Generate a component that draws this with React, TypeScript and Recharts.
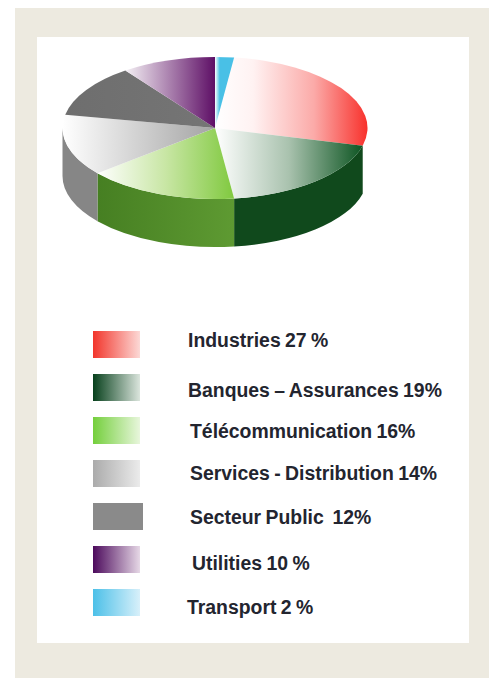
import React from 'react';
import { PieChart, Pie, Legend } from 'recharts';

const categories = [
  'Industries',
  'Banques – Assurances',
  'Télécommunication',
  'Services - Distribution',
  'Secteur Public',
  'Utilities',
  'Transport',
];
const shares = [27, 19, 16, 14, 12, 10, 2];
const shareLabels = ['27 %', '19%', '16%', '14%', ' 12%', '10 %', '2 %'];

// face gradients as [offset, colour] stops, left to right
const faceStops: [number, string][][] = [
  [[0, '#ffffff'], [0.25, '#fff2f2'], [0.65, '#fbaaa8'], [1, '#f8312c']],
  [[0, '#ffffff'], [0.5, '#a9c2ae'], [1, '#0d5522']],
  [[0, '#ffffff'], [0.5, '#c8e6a4'], [1, '#80c93f']],
  [[0, '#ffffff'], [1, '#a3a3a3']],
  [[0, '#6e6e6e'], [1, '#757575']],
  [[0, '#f4f0f4'], [1, '#5e0f66']],
  [[0, '#ffffff'], [0.25, '#49c0e6'], [1, '#49c0e6']],
];
const wallColors = ['none', '#10491c', 'url(#greenWall)', '#868686', '#757575', '#5e0f66', '#49c0e6'];
const swatchColors = [
  ['#f2352b', '#fcd9d6'],
  ['#07401c', '#dbe5dd'],
  ['#74cf3c', '#e8f6dc'],
  ['#ababab', '#ebebeb'],
  ['#8a8a8a', '#8a8a8a'],
  ['#4c0a5c', '#e6d8e6'],
  ['#4cc0e8', '#d8f0fa'],
];
const rowLeft = [188, 188, 190, 190, 190, 192, 187];
const rowTextMid = [340, 390, 431, 473, 517, 563, 607];

const tableData = categories.map((name, i) => ({ name, value: shares[i], index: i }));

const CX = 215;
const CY = 128;
const RX = 152.5;
const SQUASH = 71 / 152.5;
const DEPTH = 48;
const FIRST_ANGLE = 82.8;

const px = (cx: number, r: number, a: number) => cx + r * Math.cos((a * Math.PI) / 180);
const py = (cy: number, r: number, a: number) => cy - r * SQUASH * Math.sin((a * Math.PI) / 180);

// top of a slice, flattened to an ellipse
function Face(props: any) {
  const { cx, cy, outerRadius: r, startAngle, endAngle, payload } = props;
  const large = Math.abs(startAngle - endAngle) > 180 ? 1 : 0;
  const d = `M${cx},${cy} L${px(cx, r, startAngle)},${py(cy, r, startAngle)} A${r},${r * SQUASH} 0 ${large} 1 ${px(cx, r, endAngle)},${py(cy, r, endAngle)} Z`;
  return <path d={d} fill={`url(#face${payload.index})`} />;
}

// rim of a slice, only the part that faces the viewer (angles 0..-180)
function Wall(props: any) {
  const { cx, cy, outerRadius: r, startAngle, endAngle, payload } = props;
  const a = Math.min(startAngle, 0);
  const b = Math.max(endAngle, -180);
  if (a <= b) return <g />;
  const d = `M${px(cx, r, a)},${py(cy, r, a)} A${r},${r * SQUASH} 0 0 1 ${px(cx, r, b)},${py(cy, r, b)} L${px(cx, r, b)},${py(cy, r, b) + DEPTH} A${r},${r * SQUASH} 0 0 0 ${px(cx, r, a)},${py(cy, r, a) + DEPTH} Z`;
  return <path d={d} fill={wallColors[payload.index]} />;
}

function LegendRows() {
  return (
    <div style={{ position: 'absolute', left: 0, top: 0, width: 489, height: 678 }}>
      {categories.map((name, i) => (
        <React.Fragment key={name}>
          <div
            style={{
              position: 'absolute',
              left: 93,
              top: 331 + i * 43,
              width: i === 4 ? 50 : 47,
              height: 27,
              background: `linear-gradient(to right, ${swatchColors[i][0]}, ${swatchColors[i][1]})`,
            }}
          />
          <div
            style={{
              position: 'absolute',
              left: rowLeft[i],
              top: rowTextMid[i] - 12,
              lineHeight: '24px',
              fontSize: 19.4,
              fontWeight: 700,
              wordSpacing: -1,
              fontFamily: '"Liberation Sans", Arial, sans-serif',
              color: '#23252f',
              whiteSpace: 'pre',
            }}
          >
            {name} {shareLabels[i]}
          </div>
        </React.Fragment>
      ))}
    </div>
  );
}

export default function App() {
  return (
    <div style={{ position: 'absolute', left: 0, top: 0, width: 489, height: 678, background: '#ffffff', overflow: 'hidden' }}>
      <div style={{ position: 'absolute', left: 15, top: 8, width: 474, height: 670, background: '#edeae0' }} />
      <div style={{ position: 'absolute', left: 37, top: 37, width: 432, height: 606, background: '#ffffff' }} />
      <div style={{ position: 'absolute', left: 0, top: 0 }}>
        <PieChart width={489} height={678} margin={{ top: 0, right: 0, bottom: 0, left: 0 }}>
          <defs>
            {faceStops.map((stops, i) => (
              <linearGradient key={i} id={`face${i}`} x1="0" y1="0" x2="1" y2="0">
                {stops.map(([offset, color]) => (
                  <stop key={offset} offset={offset} stopColor={color} />
                ))}
              </linearGradient>
            ))}
            <linearGradient id="greenWall" x1="0" y1="0" x2="1" y2="0">
              <stop offset={0} stopColor="#467f22" />
              <stop offset={1} stopColor="#5e9a32" />
            </linearGradient>
          </defs>
          <Pie
            data={tableData}
            dataKey="value"
            nameKey="name"
            cx={CX}
            cy={CY}
            outerRadius={RX}
            startAngle={FIRST_ANGLE}
            endAngle={FIRST_ANGLE - 360}
            stroke="none"
            legendType="none"
            shape={Wall}
            isAnimationActive={false}
          />
          <Pie
            data={tableData}
            dataKey="value"
            nameKey="name"
            cx={CX}
            cy={CY}
            outerRadius={RX}
            startAngle={FIRST_ANGLE}
            endAngle={FIRST_ANGLE - 360}
            stroke="none"
            shape={Face}
            isAnimationActive={false}
          />
          <Legend content={LegendRows} wrapperStyle={{ left: 0, top: 0, width: 489, height: 678 }} />
        </PieChart>
      </div>
    </div>
  );
}
